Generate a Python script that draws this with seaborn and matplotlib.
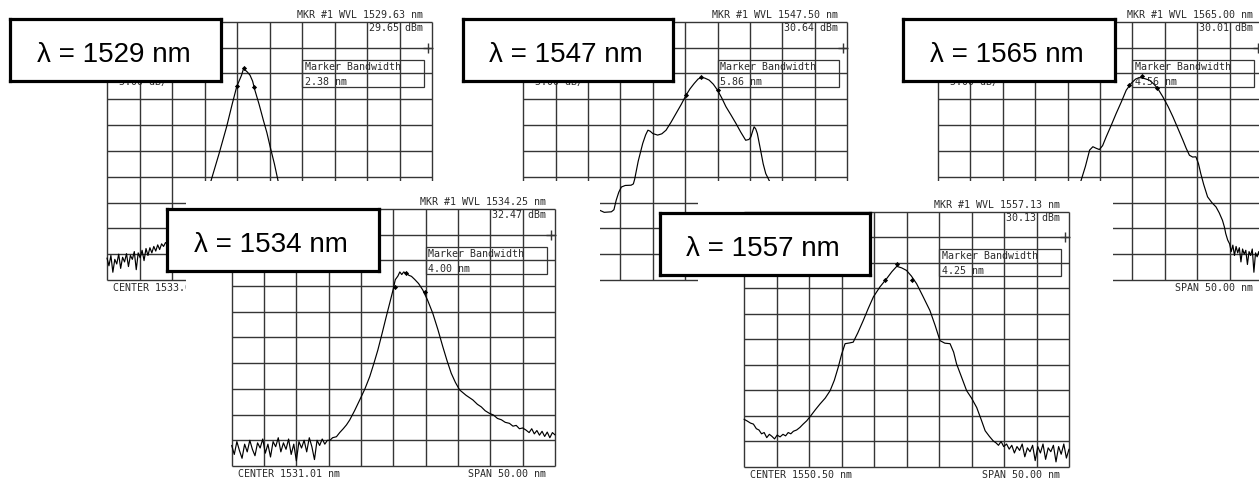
import matplotlib
matplotlib.use("Agg")
import matplotlib.pyplot as plt
from matplotlib.patches import Rectangle
import seaborn as sns

sns.set_style("white")
plt.rcParams['font.family'] = ['DejaVu Sans']

W, H = 1259, 482

# ---------------- data (grid units: 10 columns x 10 rows) ----------------
x1529 = [0.00,0.06,0.12,0.18,0.24,0.30,0.36,0.42,0.48,0.54,0.60,0.66,0.72,0.78,0.84,0.90,0.96,1.02,1.08,1.14,
         1.20,1.26,1.32,1.38,1.44,1.50,1.56,1.62,1.68,1.74,1.80,1.86,1.92,
         2.30,2.80,3.19,3.45,3.68,3.85,3.99,4.08,4.14,4.20,4.25,4.32,4.40,4.48,4.55,4.68,4.81,4.92,5.02,5.15,
         5.27,5.60,6.00,6.60,7.40,8.40,9.40,10.0]
y1529 = [0.85,0.55,0.95,0.30,0.80,0.62,1.00,0.45,0.88,0.70,1.02,0.52,0.95,0.80,1.10,0.40,1.05,0.86,1.15,0.75,
         1.22,0.95,1.25,1.05,1.30,1.12,1.36,1.18,1.40,1.30,1.45,1.38,1.50,
         1.90,2.80,3.80,4.90,5.93,6.80,7.48,7.75,7.93,8.18,8.13,8.05,7.93,7.70,7.35,6.80,6.19,5.70,5.16,4.50,
         3.80,2.60,1.80,1.30,1.05,0.95,0.90,0.90]

x1547 = [0.00,1.00,2.00,2.36,2.50,2.72,2.80,2.87,2.95,3.03,3.15,3.33,3.40,3.44,3.55,3.69,3.78,3.85,3.92,4.00,
         4.15,4.28,4.41,4.56,4.72,4.88,5.03,5.15,5.28,5.40,5.49,5.60,5.74,5.87,6.00,6.13,6.26,6.42,6.57,6.72,
         6.87,6.97,7.03,7.09,7.13,7.18,7.23,7.33,7.41,7.49,7.64,7.90,8.30,8.80,9.40,10.0]
y1547 = [2.30,2.45,2.60,2.70,2.62,2.64,2.72,3.09,3.40,3.60,3.66,3.67,3.72,3.90,4.60,5.29,5.62,5.80,5.76,5.67,
         5.61,5.66,5.80,6.10,6.45,6.80,7.16,7.40,7.61,7.78,7.84,7.82,7.74,7.58,7.35,7.05,6.71,6.38,6.06,5.72,
         5.41,5.44,5.54,5.78,5.93,5.85,5.67,5.03,4.50,4.12,3.74,3.00,2.00,1.40,1.10,1.00]

x1565 = [0.00,1.50,2.80,3.60,4.00,4.37,4.55,4.68,4.78,4.88,4.98,5.08,5.19,5.35,5.50,5.66,5.81,5.96,6.10,6.22,
         6.37,6.52,6.65,6.78,6.94,7.10,7.25,7.40,7.56,7.66,7.76,7.86,7.96,8.04,8.11,8.20,8.32,8.45,8.58,8.68,
         8.78,8.84,8.88,8.94,9.00,9.05,9.10,9.15,9.20,9.25,9.30,9.35,9.40,9.45,9.50,9.55,9.60,9.65,9.70,9.75,
         9.80,9.85,9.90,9.95,10.0]
y1565 = [0.90,1.20,1.80,2.50,3.00,3.67,4.40,5.03,5.16,5.10,5.05,5.20,5.54,6.00,6.45,6.90,7.35,7.61,7.78,7.84,
         7.80,7.74,7.60,7.42,7.09,6.72,6.32,5.88,5.41,5.10,4.83,4.76,4.77,4.50,4.12,3.70,3.22,3.00,2.83,2.60,
         2.31,2.05,1.80,1.55,1.40,1.10,1.35,0.95,1.30,1.05,1.25,0.70,1.20,1.00,1.15,0.60,1.10,0.95,1.20,0.30,
         1.05,0.90,1.10,0.80,1.00]

x1534 = [0.00,0.08,0.16,0.24,0.32,0.40,0.48,0.56,0.64,0.72,0.80,0.88,0.96,1.04,1.12,1.20,1.28,1.36,1.44,1.52,
         1.60,1.68,1.76,1.84,1.92,2.00,2.08,2.16,2.24,2.32,2.40,2.48,2.56,2.64,2.72,2.80,2.88,2.96,
         3.04,3.12,3.24,3.34,3.45,3.55,3.65,3.80,3.96,4.12,4.27,4.40,4.52,4.65,4.78,4.90,4.99,5.06,5.14,5.20,
         5.26,5.32,5.40,5.48,5.56,5.66,5.78,5.91,6.06,6.22,6.38,6.53,6.66,6.79,6.92,7.05,7.25,7.46,
         7.60,7.72,7.84,7.97,8.10,8.22,8.34,8.46,8.59,8.70,8.80,8.90,9.00,9.10,9.20,9.28,9.36,9.44,9.52,9.60,
         9.68,9.76,9.84,9.92,10.0]
y1534 = [0.80,0.45,0.95,0.60,0.30,0.85,0.55,1.00,0.65,0.40,0.90,0.70,1.05,0.50,0.85,0.35,0.95,0.75,1.10,0.55,
         0.90,0.65,1.05,0.45,0.85,0.20,0.95,0.70,1.00,0.55,1.10,0.75,0.25,1.00,0.80,1.05,0.85,1.00,
         1.00,1.10,1.14,1.30,1.45,1.60,1.79,2.15,2.57,3.00,3.48,4.00,4.51,5.15,5.81,6.40,6.85,7.25,7.39,7.55,
         7.45,7.55,7.50,7.42,7.38,7.26,7.10,6.85,6.45,5.94,5.30,4.64,4.10,3.61,3.25,2.96,2.75,2.57,
         2.40,2.30,2.15,2.05,1.98,1.85,1.80,1.70,1.66,1.55,1.58,1.45,1.48,1.40,1.30,1.45,1.25,1.38,1.20,1.35,
         1.15,1.32,1.10,1.30,1.21]

x1557 = [0.00,0.10,0.20,0.29,0.38,0.46,0.54,0.62,0.70,0.78,0.86,0.94,1.02,1.11,1.20,1.28,1.36,1.44,1.52,1.62,
         1.72,1.82,1.93,
         2.05,2.20,2.34,2.50,2.65,2.78,2.90,3.00,3.11,3.25,3.36,3.50,3.67,3.82,3.98,4.18,4.39,4.55,4.70,4.85,
         5.00,5.15,5.31,5.50,5.72,5.88,6.03,6.18,6.34,6.45,6.54,6.70,6.85,7.00,7.16,7.30,7.42,7.55,7.67,
         7.75,7.83,7.91,7.99,8.08,8.16,8.24,8.32,8.40,8.48,8.56,8.64,8.72,8.80,8.88,8.96,9.04,9.12,9.20,9.28,
         9.36,9.44,9.52,9.60,9.68,9.76,9.84,9.92,10.0]
y1557 = [1.87,1.80,1.72,1.68,1.50,1.45,1.30,1.35,1.15,1.28,1.20,1.10,1.25,1.18,1.28,1.22,1.35,1.30,1.40,1.45,
         1.55,1.68,1.81,
         2.00,2.25,2.47,2.70,2.99,3.40,3.91,4.40,4.83,4.86,4.89,5.25,5.74,6.20,6.66,7.05,7.38,7.65,7.86,7.80,
         7.70,7.48,7.18,6.70,6.13,5.55,4.95,4.85,4.83,4.50,4.04,3.50,2.99,2.70,2.33,1.85,1.42,1.20,1.02,
         0.95,0.85,1.00,0.80,0.90,0.70,0.85,0.55,0.80,0.65,0.90,0.40,0.75,0.60,0.85,0.25,0.80,0.55,0.90,0.30,
         0.75,0.60,0.85,0.20,0.80,0.50,0.90,0.35,0.70]

labels = ["λ = 1529 nm", "λ = 1547 nm", "λ = 1565 nm", "λ = 1534 nm", "λ = 1557 nm"]
mkr_wvl = ["1529.63", "1547.50", "1565.00", "1534.25", "1557.13"]
mkr_pwr = ["29.65", "30.64", "30.01", "32.47", "30.13"]
bandwidth = ["2.38", "5.86", "4.56", "4.00", "4.25"]
centers = ["CENTER 1533.00 nm", "", "", "CENTER 1531.01 nm", "CENTER 1550.50 nm"]
span = "50.00"
marker_x = [[4.01, 4.22, 4.52], [5.03, 5.49, 6.00], [5.90, 6.30, 6.75], [5.04, 5.40, 5.97], [4.34, 4.70, 5.16]]
marker_y = [[7.51, 8.20, 7.46], [7.16, 7.87, 7.35], [7.55, 7.90, 7.45], [6.98, 7.50, 6.78], [7.34, 7.95, 7.34]]

curves_x = [x1529, x1547, x1565, x1534, x1557]
curves_y = [y1529, y1547, y1565, y1534, y1557]

# ---------------- layout (pixels, y from top) ----------------
img_boxes = [(61, 0, 477, 297), (477, 0, 892, 297), (892, 0, 1307, 297),
             (186, 181, 600, 495), (698, 181, 1113, 495)]
grid_boxes = [(107, 21.7, 432, 280), (523.3, 21.7, 847, 280), (938, 21.7, 1262, 280),
              (231.7, 209, 555, 466), (744, 211.7, 1069, 467)]
zorders = [1, 1, 1, 2, 2]
label_boxes = [(10, 19, 221, 81), (463, 19, 673, 81), (903, 19, 1115, 81),
               (167, 209, 379, 271), (660, 213, 870, 275)]

fig = plt.figure(figsize=(W / 100, H / 100), dpi=100)
fig.patch.set_facecolor("white")

GRID_C = "#353535"
TXT_C = "#2b2b2b"
MONO = "DejaVu Sans Mono"

for i in range(5):
    X0, Y0, X1, Y1 = img_boxes[i]
    gx0, gy0, gx1, gy1 = grid_boxes[i]
    ax = fig.add_axes([X0 / W, 1 - Y1 / H, (X1 - X0) / W, (Y1 - Y0) / H])
    ax.set_zorder(zorders[i])
    ax.set_facecolor("white")
    cw = (gx1 - gx0) / 10.0
    rh = (gy1 - gy0) / 10.0
    ax.vlines(range(11), 0, 10, color=GRID_C, lw=1.0, zorder=1)
    ax.hlines(range(11), 0, 10, color=GRID_C, lw=1.0, zorder=1)
    sns.lineplot(x=curves_x[i], y=curves_y[i], ax=ax, color="black", lw=0.85,
                 sort=False, estimator=None, zorder=3)
    sns.scatterplot(x=marker_x[i], y=marker_y[i], ax=ax, color="black", marker="D",
                    s=7, linewidth=0, zorder=4)
    ax.plot([9.88], [9.0], marker="+", ms=7, mew=1.0, color=GRID_C, zorder=2)
    ax.add_patch(Rectangle((6.0, 7.48), 3.75, 1.04, fill=False, ec=GRID_C, lw=0.9, zorder=2))
    kw = dict(family=MONO, fontsize=7.2, color=TXT_C, va="baseline", zorder=5)
    ax.text(9.72, 10.14, f"MKR #1 WVL {mkr_wvl[i]} nm", ha="right", **kw)
    ax.text(9.72, 9.65, f"{mkr_pwr[i]} dBm", ha="right", **kw)
    ax.text(6.08, 8.13, "Marker Bandwidth", ha="left", **kw)
    ax.text(6.08, 7.55, f"{bandwidth[i]} nm", ha="left", **kw)
    ax.text(0.36, 7.55, "5.00 dB/", ha="left", **kw)
    if centers[i]:
        ax.text(0.18, -0.43, centers[i], ha="left", **kw)
    ax.text(9.72, -0.43, f"SPAN {span} nm", ha="right", **kw)
    ax.set_xlim(-(gx0 - X0) / cw, 10 + (X1 - gx1) / cw)
    ax.set_ylim(-(Y1 - gy1) / rh, 10 + (gy0 - Y0) / rh)
    ax.set_xticks([])
    ax.set_yticks([])
    ax.set_xlabel("")
    ax.set_ylabel("")
    for s in ax.spines.values():
        s.set_visible(False)
    if ax.get_legend():
        ax.get_legend().remove()

for i in range(5):
    X0, Y0, X1, Y1 = label_boxes[i]
    lax = fig.add_axes([X0 / W, 1 - Y1 / H, (X1 - X0) / W, (Y1 - Y0) / H])
    lax.set_zorder(10)
    lax.set_facecolor("white")
    lax.set_xticks([])
    lax.set_yticks([])
    for s in lax.spines.values():
        s.set_visible(True)
        s.set_color("black")
        s.set_linewidth(2.3)
    lax.text(0.49, 0.30, labels[i], transform=lax.transAxes, ha="center", va="baseline",
             fontsize=20, family="Liberation Sans", color="black")

fig.savefig("out.png", dpi=100, facecolor="white")
